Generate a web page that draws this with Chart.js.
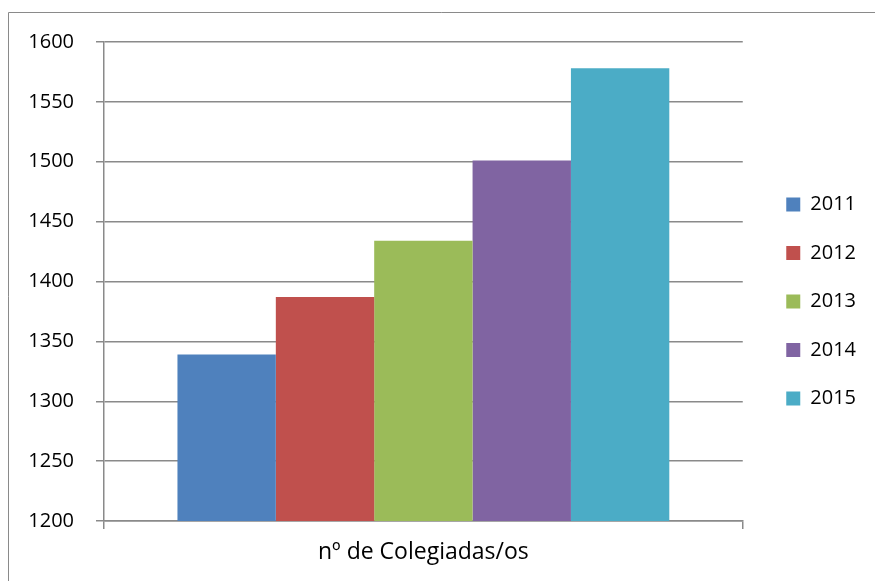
<!DOCTYPE html>
<html>
<head>
<meta charset="utf-8">
<script src="https://cdn.jsdelivr.net/npm/chart.js@4"></script>
<style>
  html, body { margin: 0; padding: 0; background: #fff; }
  #wrap { width: 875px; height: 581px; }
</style>
</head>
<body>
<div id="wrap"><canvas id="myChart" width="875" height="581"></canvas></div>
<script>
var categories = ['nº de Colegiadas/os'];
var years = ['2011', '2012', '2013', '2014', '2015'];
var values = [1339, 1387, 1434, 1501, 1578];
var yearColors = ['#4F81BD', '#C0504D', '#9BBB59', '#8064A2', '#4BACC6'];

var yMin = 1200, yMax = 1600, yStep = 50;
var lineGray = '#8a8a8a';
var font = { family: '"Open Sans", "Liberation Sans", sans-serif', size: 20 };
var catFont = { family: '"Open Sans", "Liberation Sans", sans-serif', size: 23 };

var datasets = years.map(function (y, i) {
  return {
    label: y,
    data: [values[i]],
    backgroundColor: yearColors[i],
    borderWidth: 0,
    barPercentage: 1,
    categoryPercentage: 0.77
  };
});

// outer frame, cut off at right and bottom like the original
var framePlugin = {
  id: 'frame',
  beforeDraw: function (chart) {
    var ctx = chart.ctx;
    ctx.save();
    ctx.strokeStyle = lineGray;
    ctx.lineWidth = 1;
    ctx.beginPath();
    ctx.moveTo(8.5, 581);
    ctx.lineTo(8.5, 12.5);
    ctx.lineTo(875, 12.5);
    ctx.stroke();
    ctx.restore();
  }
};

// move legend a bit away from the plot and up
var legendPlace = {
  id: 'legendPlace',
  afterLayout: function (chart) {
    var lg = chart.legend;
    var w = lg.right - lg.left;
    lg.left = chart.chartArea.right + 15;
    lg.right = lg.left + w;
    lg.top -= 10;
    lg.bottom -= 10;
  }
};

var myChartObject = document.getElementById('myChart');

var chart = new Chart(myChartObject, {
  type: 'bar',
  data: {
    labels: categories,
    datasets: datasets
  },
  plugins: [framePlugin, legendPlace],
  options: {
    responsive: false,
    animation: false,
    layout: { padding: { left: 0, top: 42, right: 24, bottom: 0 } },
    plugins: {
      tooltip: { enabled: false },
      legend: {
        position: 'right',
        align: 'center',
        labels: {
          font: font,
          color: '#000',
          boxWidth: 14,
          boxHeight: 14,
          padding: 28.5
        }
      }
    },
    scales: {
      x: {
        grid: {
          drawOnChartArea: false,
          drawTicks: true,
          tickLength: 8,
          color: lineGray,
          lineWidth: 1.5
        },
        border: { display: true, color: lineGray, width: 1.5 },
        ticks: { font: catFont, color: '#000', padding: 10 },
        afterFit: function (scale) { scale.height = 60; }
      },
      y: {
        min: yMin,
        max: yMax,
        grid: {
          color: lineGray,
          lineWidth: 1.5,
          tickLength: 8
        },
        border: { display: true, color: lineGray, width: 1.5 },
        ticks: {
          stepSize: yStep,
          font: font,
          color: '#000',
          padding: 22,
          callback: function (v) { return String(v); }
        },
        afterFit: function (scale) { scale.width = 104; }
      }
    }
  }
});
</script>
</body>
</html>
